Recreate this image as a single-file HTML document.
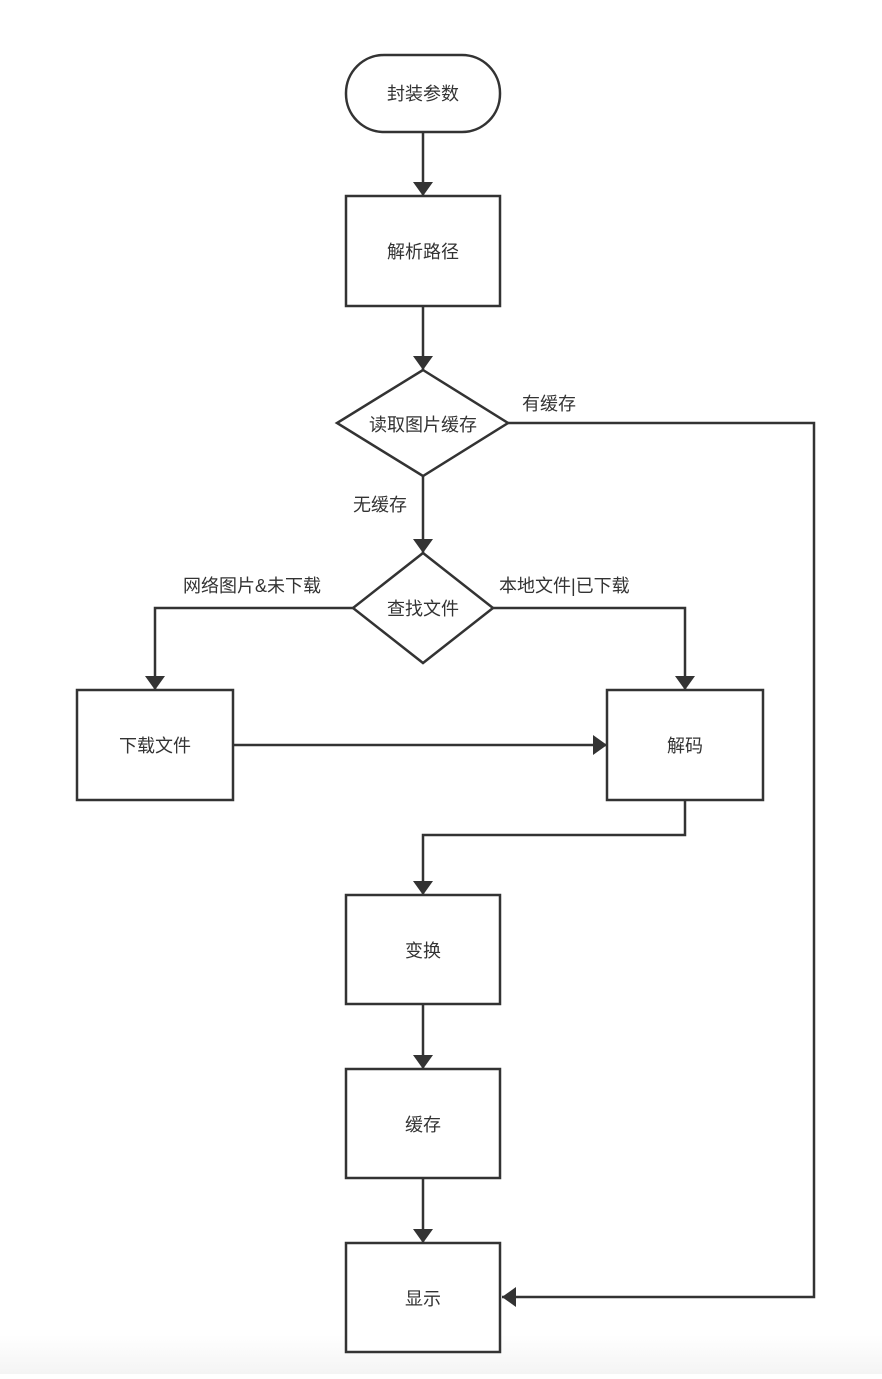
<!DOCTYPE html>
<html><head><meta charset="utf-8"><style>
html,body{margin:0;padding:0;background:#fff}
body{width:882px;height:1374px;overflow:hidden;background:linear-gradient(to bottom,#fff 0,#fff 1335px,#f4f4f4 1374px)}
text{font-family:"Liberation Sans","Noto Sans CJK SC",sans-serif;font-size:18px;fill:#333}
</style></head><body>
<svg width="882" height="1374" viewBox="0 0 882 1374" xmlns="http://www.w3.org/2000/svg">
<defs><marker id="a" markerWidth="10" markerHeight="10" refX="9" refY="5" orient="auto" markerUnits="userSpaceOnUse"><path d="M0,0 L10,5 L0,10 z" fill="#333"/></marker>
<marker id="b" viewBox="0 0 14 20" markerWidth="14" markerHeight="20" refX="14" refY="10" orient="auto" markerUnits="userSpaceOnUse"><path d="M0,0 L14,10 L0,20 z" fill="#333"/></marker></defs>
<g fill="none" stroke="#333" stroke-width="2.5">
<rect x="346" y="55" width="154" height="77" rx="38" fill="#fff"/>
<rect x="346" y="196" width="154" height="110" fill="#fff"/>
<polygon points="423,370 508,423 423,476 337,423" fill="#fff"/>
<polygon points="423,553 493,608 423,663 353,608" fill="#fff"/>
<rect x="77" y="690" width="156" height="110" fill="#fff"/>
<rect x="607" y="690" width="156" height="110" fill="#fff"/>
<rect x="346" y="895" width="154" height="109" fill="#fff"/>
<rect x="346" y="1069" width="154" height="109" fill="#fff"/>
<rect x="346" y="1243" width="154" height="109" fill="#fff"/>
<g marker-end="url(#b)">
<path d="M423,132 V196"/>
<path d="M423,306 V370"/>
<path d="M423,476 V553"/>
<path d="M353,608 H155 V690"/>
<path d="M493,608 H685 V690"/>
<path d="M233,745 H607"/>
<path d="M685,800 V835 H423 V895"/>
<path d="M423,1004 V1069"/>
<path d="M423,1178 V1243"/>
<path d="M508,423 H814 V1297 H502"/>
</g>
</g>
<g text-anchor="middle">
<text x="423" y="100">封装参数</text>
<text x="423" y="258">解析路径</text>
<text x="423" y="431">读取图片缓存</text>
<text x="423" y="615">查找文件</text>
<text x="155" y="752">下载文件</text>
<text x="685" y="752">解码</text>
<text x="423" y="957">变换</text>
<text x="423" y="1131">缓存</text>
<text x="423" y="1305">显示</text>
</g>
<text x="522" y="410">有缓存</text>
<text x="353" y="511">无缓存</text>
<text x="183" y="592">网络图片&amp;未下载</text>
<text x="499" y="592">本地文件|已下载</text>
</svg>
</body></html>
